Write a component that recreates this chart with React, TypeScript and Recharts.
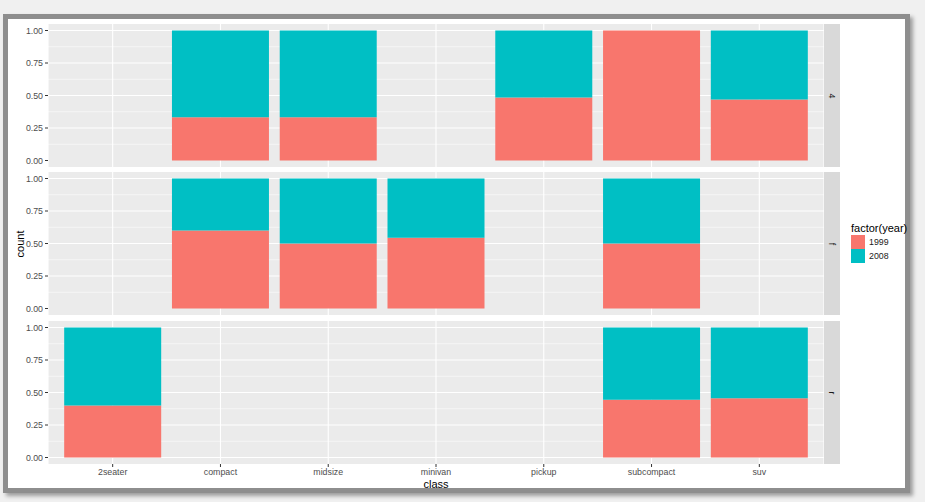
import React from "react";
import { BarChart, Bar, XAxis, YAxis, CartesianGrid } from "recharts";

// mpg: share of cars per model year, by drive train (facet rows) and class
const CLASSES = ["2seater", "compact", "midsize", "minivan", "pickup", "subcompact", "suv"];
const YEARS = ["1999", "2008"];
const YEAR_COLORS = ["#F8766D", "#00BFC4"];
const DRV = ["4", "f", "r"];

const SHARE_4_1999 = [null, 0.333, 0.333, null, 0.485, 1.0, 0.47];
const SHARE_4_2008 = [null, 0.667, 0.667, null, 0.515, 0, 0.53];
const SHARE_F_1999 = [null, 0.6, 0.5, 0.545, null, 0.5, null];
const SHARE_F_2008 = [null, 0.4, 0.5, 0.455, null, 0.5, null];
const SHARE_R_1999 = [0.4, null, null, null, null, 0.444, 0.455];
const SHARE_R_2008 = [0.6, null, null, null, null, 0.556, 0.545];

const Y_TICKS = [0, 0.25, 0.5, 0.75, 1];
const Y_MINOR = [0.125, 0.375, 0.625, 0.875];

const rows = (a: (number | null)[], b: (number | null)[]) =>
  CLASSES.map((cls, i) => ({ cls, y1999: a[i], y2008: b[i] }));

const PANELS = [
  rows(SHARE_4_1999, SHARE_4_2008),
  rows(SHARE_F_1999, SHARE_F_2008),
  rows(SHARE_R_1999, SHARE_R_2008),
];

const PANEL_TOPS = [24, 172, 321];
const PANEL_H = 143;
const PLOT_RIGHT = 824;
const AXIS_W = 48;
const TEXT = "#4D4D4D";

function Panel({ data, top, showX }: { data: any[]; top: number; showX: boolean }) {
  return (
    <div style={{ position: "absolute", left: 0, top }}>
      <BarChart
        width={PLOT_RIGHT}
        height={PANEL_H + (showX ? 20 : 0)}
        data={data}
        margin={{ top: 0, right: 0, bottom: 0, left: 0 }}
        barCategoryGap="5%"
      >
        <CartesianGrid
          fill="#EBEBEB"
          stroke="#FFFFFF"
          strokeWidth={0.55}
          vertical={false}
          horizontalValues={Y_MINOR}
        />
        <CartesianGrid stroke="#FFFFFF" strokeWidth={1.1} horizontalValues={Y_TICKS} />
        <XAxis
          dataKey="cls"
          hide={!showX}
          height={20}
          padding={{ left: 10.8, right: 10.8 }}
          axisLine={false}
          tickSize={3}
          tickMargin={2}
          tickLine={{ stroke: "#333333" }}
          tick={{ fill: TEXT, fontSize: 8.8 }}
          interval={0}
        />
        <YAxis
          type="number"
          width={AXIS_W}
          domain={[-0.05, 1.05]}
          ticks={Y_TICKS}
          axisLine={false}
          tickSize={3}
          tickMargin={2}
          tickLine={{ stroke: "#333333" }}
          tick={{ fill: TEXT, fontSize: 8.8 }}
          tickFormatter={(v: number) => v.toFixed(2)}
        />
        <Bar dataKey="y1999" stackId="yr" fill={YEAR_COLORS[0]} isAnimationActive={false} />
        <Bar dataKey="y2008" stackId="yr" fill={YEAR_COLORS[1]} isAnimationActive={false} />
      </BarChart>
    </div>
  );
}

export default function App() {
  return (
    <div
      style={{
        position: "fixed",
        left: 0,
        top: 0,
        width: 925,
        height: 502,
        background: "#F0F0F0",
        fontFamily: "'Liberation Sans', Arial, sans-serif",
        overflow: "hidden",
      }}
    >
      <div
        style={{
          position: "absolute",
          left: 3,
          top: 14,
          width: 897,
          height: 469,
          background: "#FFFFFF",
          border: "5px solid #8E8E8E",
          boxShadow: "3px 3px 4px rgba(0,0,0,0.35)",
        }}
      />
      {PANELS.map((data, i) => (
        <Panel key={DRV[i]} data={data} top={PANEL_TOPS[i]} showX={i === PANELS.length - 1} />
      ))}
      {DRV.map((d, i) => (
        <div
          key={d}
          style={{
            position: "absolute",
            left: PLOT_RIGHT,
            top: PANEL_TOPS[i],
            width: 16,
            height: PANEL_H,
            background: "#D9D9D9",
            display: "flex",
            alignItems: "center",
            justifyContent: "center",
          }}
        >
          <span style={{ transform: "rotate(90deg)", fontSize: 8.8, color: "#1A1A1A" }}>{d}</span>
        </div>
      ))}
      <div
        style={{
          position: "absolute",
          left: 12,
          top: 244,
          fontSize: 11,
          color: "#000",
          transform: "translate(-50%, -50%) rotate(-90deg)",
          transformOrigin: "center",
          marginLeft: 8,
        }}
      >
        count
      </div>
      <div
        style={{
          position: "absolute",
          left: 436,
          top: 478,
          fontSize: 11,
          color: "#000",
          transform: "translateX(-50%)",
        }}
      >
        class
      </div>
      <div style={{ position: "absolute", left: 851, top: 222 }}>
        <div style={{ fontSize: 11, color: "#000", marginBottom: 1 }}>factor(year)</div>
        {YEARS.map((y, i) => (
          <div key={y} style={{ display: "flex", alignItems: "center", height: 14.3 }}>
            <div style={{ width: 14, height: 14, background: YEAR_COLORS[i] }} />
            <span style={{ fontSize: 8.8, color: "#1A1A1A", marginLeft: 4 }}>{y}</span>
          </div>
        ))}
      </div>
    </div>
  );
}
